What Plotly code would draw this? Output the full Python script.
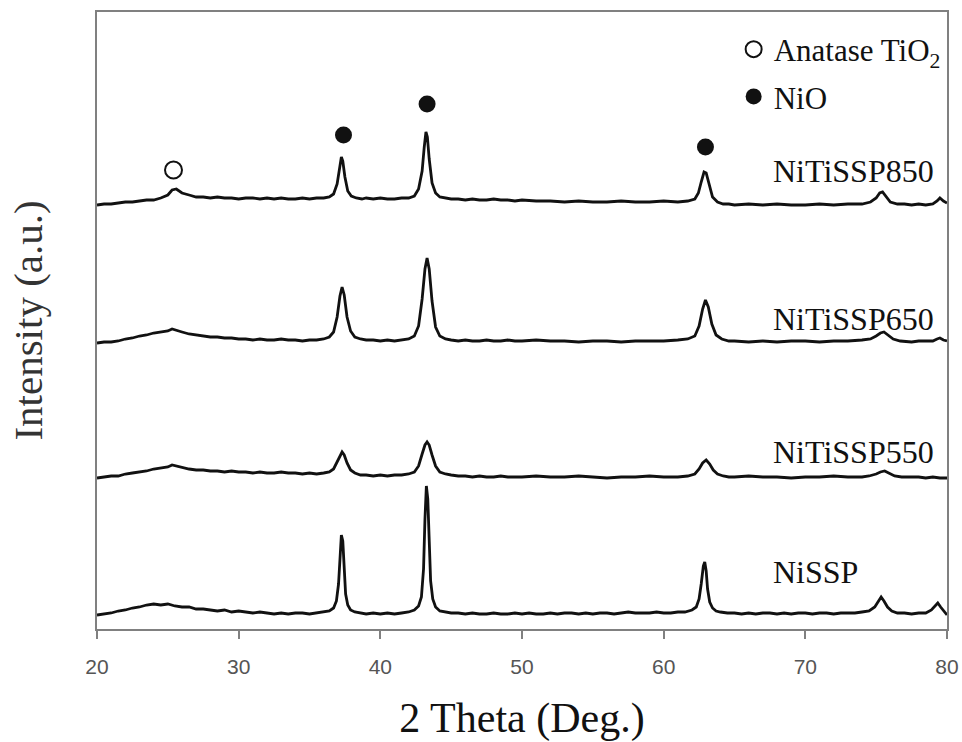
import plotly.graph_objects as go

# 2-theta positions (deg) and stacked intensities (a.u.) for each sample
nissp_x = [20.0, 20.5, 21.0, 21.5, 22.0, 22.5, 23.0, 23.5, 24.0, 24.5, 25.0, 25.5, 26.0, 26.5, 27.0, 27.5,
           28.0, 28.5, 29.0, 29.5, 30.0, 30.5, 31.0, 31.5, 32.0, 32.5, 33.0, 33.5, 34.0, 34.5, 35.0, 35.5,
           36.0, 36.4, 36.7, 36.9, 37.05, 37.15, 37.25, 37.35, 37.45, 37.55, 37.7, 37.9, 38.2, 38.6, 39.0,
           39.5, 40.0, 40.5, 41.0, 41.5, 42.0, 42.4, 42.7, 42.9, 43.05, 43.15, 43.25, 43.35, 43.45, 43.55,
           43.7, 43.9, 44.2, 44.6, 45.0, 45.5, 46.0, 46.5, 47.0, 47.5, 48.0, 48.5, 49.0, 49.5, 50.0, 50.5,
           51.0, 51.5, 52.0, 52.5, 53.0, 53.5, 54.0, 54.5, 55.0, 55.5, 56.0, 56.5, 57.0, 57.5, 58.0, 58.5,
           59.0, 59.5, 60.0, 60.5, 61.0, 61.5, 62.0, 62.3, 62.5, 62.65, 62.8, 62.9, 63.0, 63.1, 63.25, 63.45,
           63.7, 64.0, 64.5, 65.0, 65.5, 66.0, 66.5, 67.0, 67.5, 68.0, 68.5, 69.0, 69.5, 70.0, 70.5, 71.0,
           71.5, 72.0, 72.5, 73.0, 73.5, 74.0, 74.5, 74.9, 75.15, 75.35, 75.55, 75.8, 76.1, 76.5, 77.0, 77.5,
           78.0, 78.5, 78.9, 79.2, 79.35, 79.55, 79.8, 80.0]
nissp_y = [14, 15, 16, 18, 19, 21, 22, 24, 25, 24, 25, 23, 22, 22, 20, 20,
           19, 18, 19, 17, 18, 17, 16, 17, 16, 15, 16, 15, 16, 16, 15, 16,
           17, 18, 21, 28, 45, 75, 94, 88, 60, 35, 24, 19, 17, 16, 15,
           16, 15, 16, 15, 16, 17, 19, 23, 32, 60, 110, 143, 130, 85, 48,
           30, 22, 18, 17, 16, 16, 15, 16, 15, 15, 16, 15, 15, 16, 15, 16,
           15, 15, 16, 15, 16, 16, 15, 16, 15, 16, 16, 15, 16, 17, 16, 16,
           16, 17, 16, 16, 17, 17, 19, 22, 30, 45, 63, 67, 58, 40, 27, 21,
           18, 17, 16, 16, 15, 16, 15, 16, 16, 15, 16, 15, 16, 16, 15, 16,
           16, 15, 16, 16, 16, 17, 18, 22, 28, 32, 28, 22, 18, 16, 16, 15,
           16, 16, 19, 24, 26, 22, 17, 14]

s550_x = [20.0, 20.5, 21.0, 21.5, 22.0, 22.5, 23.0, 23.5, 24.0, 24.5, 25.0, 25.3, 25.6, 26.0, 26.5, 27.0,
          27.5, 28.0, 28.5, 29.0, 29.5, 30.0, 30.5, 31.0, 31.5, 32.0, 32.5, 33.0, 33.5, 34.0, 34.5, 35.0,
          35.5, 36.0, 36.4, 36.7, 36.95, 37.15, 37.3, 37.45, 37.65, 37.9, 38.2, 38.6, 39.0, 39.5, 40.0,
          40.5, 41.0, 41.5, 42.0, 42.4, 42.7, 42.95, 43.15, 43.3, 43.45, 43.65, 43.9, 44.2, 44.6, 45.0,
          45.5, 46.0, 46.5, 47.0, 47.5, 48.0, 48.5, 49.0, 49.5, 50.0, 51.0, 52.0, 53.0, 54.0, 55.0, 56.0,
          57.0, 58.0, 59.0, 60.0, 61.0, 61.7, 62.2, 62.5, 62.75, 63.0, 63.25, 63.5, 63.8, 64.2, 64.6, 65.0,
          66.0, 67.0, 68.0, 69.0, 70.0, 71.0, 72.0, 73.0, 74.0, 74.5, 75.0, 75.3, 75.6, 75.9, 76.3, 76.8,
          77.5, 78.0, 78.5, 79.0, 79.5, 80.0]
s550_y = [151, 152, 153, 153, 155, 156, 157, 158, 160, 161, 162, 164, 163, 161, 160, 159,
          159, 158, 158, 157, 158, 157, 157, 156, 157, 156, 156, 157, 156, 156, 155, 156,
          155, 156, 157, 160, 167, 174, 177, 174, 166, 159, 156, 154, 154, 153, 154,
          153, 154, 154, 155, 157, 163, 175, 184, 187, 184, 174, 163, 157, 155, 154,
          153, 153, 152, 153, 152, 152, 153, 152, 152, 152, 153, 152, 152, 153, 152, 151,
          152, 152, 153, 152, 152, 153, 155, 160, 166, 169, 165, 159, 155, 153, 152, 152,
          153, 152, 152, 151, 152, 152, 153, 152, 152, 153, 155, 157, 158, 156, 153, 152,
          152, 152, 151, 152, 151, 151]

s650_x = [20.0, 20.5, 21.0, 21.5, 22.0, 22.5, 23.0, 23.5, 24.0, 24.5, 25.0, 25.3, 25.6, 26.0, 26.5, 27.0,
          27.5, 28.0, 28.5, 29.0, 29.5, 30.0, 30.5, 31.0, 31.5, 32.0, 32.5, 33.0, 33.5, 34.0, 34.5, 35.0,
          35.5, 36.0, 36.4, 36.7, 36.95, 37.15, 37.3, 37.45, 37.65, 37.9, 38.2, 38.6, 39.0, 39.5, 40.0,
          40.5, 41.0, 41.5, 42.0, 42.4, 42.7, 42.95, 43.15, 43.3, 43.45, 43.65, 43.9, 44.2, 44.6, 45.0,
          45.5, 46.0, 46.5, 47.0, 47.5, 48.0, 48.5, 49.0, 49.5, 50.0, 51.0, 52.0, 53.0, 54.0, 55.0, 56.0,
          57.0, 58.0, 59.0, 60.0, 61.0, 61.7, 62.2, 62.5, 62.75, 62.95, 63.15, 63.4, 63.7, 64.1, 64.6, 65.0,
          66.0, 67.0, 68.0, 69.0, 70.0, 71.0, 72.0, 73.0, 74.0, 74.6, 75.0, 75.3, 75.55, 75.85, 76.2, 76.7,
          77.5, 78.0, 78.5, 79.0, 79.3, 79.5, 79.75, 80.0]
s650_y = [286, 287, 287, 288, 290, 291, 293, 294, 296, 297, 298, 300, 299, 297, 295, 294,
          293, 292, 292, 291, 291, 290, 290, 289, 290, 289, 289, 290, 289, 289, 288, 289,
          289, 290, 292, 297, 312, 333, 342, 334, 312, 298, 292, 290, 289, 289, 288,
          289, 288, 289, 290, 293, 303, 330, 360, 371, 360, 328, 302, 293, 290, 289,
          288, 289, 288, 288, 289, 288, 288, 289, 288, 288, 289, 288, 288, 287, 288, 288,
          287, 288, 288, 288, 289, 290, 293, 303, 320, 329, 322, 305, 294, 290, 288, 288,
          287, 288, 287, 288, 288, 287, 288, 288, 289, 290, 293, 296, 297, 294, 290, 288,
          287, 288, 288, 288, 290, 291, 289, 288]

s850_x = [20.0, 20.5, 21.0, 21.5, 22.0, 22.5, 23.0, 23.5, 24.0, 24.5, 25.0, 25.3, 25.6, 26.0, 26.5, 27.0,
          27.5, 28.0, 28.5, 29.0, 29.5, 30.0, 30.5, 31.0, 31.5, 32.0, 32.5, 33.0, 33.5, 34.0, 34.5, 35.0,
          35.5, 36.0, 36.4, 36.7, 36.95, 37.1, 37.25, 37.35, 37.5, 37.7, 37.95, 38.3, 38.7, 39.0, 39.5, 40.0,
          40.5, 41.0, 41.5, 42.0, 42.4, 42.7, 42.95, 43.1, 43.22, 43.32, 43.45, 43.65, 43.9, 44.2, 44.6, 45.0,
          45.5, 46.0, 46.5, 47.0, 47.5, 48.0, 48.5, 49.0, 49.5, 50.0, 51.0, 52.0, 53.0, 54.0, 55.0, 56.0,
          57.0, 58.0, 59.0, 60.0, 61.0, 61.7, 62.2, 62.45, 62.65, 62.85, 63.0, 63.2, 63.45, 63.8, 64.2, 64.6,
          65.0, 66.0, 67.0, 68.0, 69.0, 70.0, 71.0, 72.0, 73.0, 74.0, 74.6, 75.0, 75.25, 75.45, 75.7, 76.0,
          76.5, 77.0, 77.5, 78.0, 78.5, 79.0, 79.3, 79.5, 79.75, 80.0]
s850_y = [424, 425, 425, 426, 427, 427, 428, 429, 429, 431, 434, 439, 440, 436, 434, 432,
          432, 431, 432, 431, 431, 430, 431, 431, 430, 431, 430, 431, 430, 430, 431, 430,
          431, 431, 432, 435, 445, 461, 472, 468, 452, 438, 433, 431, 430, 431, 430, 431,
          430, 430, 431, 431, 433, 440, 458, 482, 497, 492, 470, 446, 436, 432, 431, 430,
          430, 429, 430, 429, 429, 430, 429, 429, 428, 429, 428, 428, 427, 428, 427, 427,
          428, 427, 427, 428, 427, 428, 430, 436, 447, 457, 456, 444, 432, 427, 425, 425,
          424, 425, 424, 425, 424, 424, 425, 424, 425, 425, 427, 431, 436, 437, 432, 427,
          425, 425, 424, 425, 424, 425, 428, 431, 428, 426]

# phase markers above the reflections
anatase_x = [25.4]
anatase_y = [459]
nio_x = [37.4, 43.3, 62.95]
nio_y = [494, 525, 482]

# sample labels: name, x position (deg), height (a.u.)
label_names = ["NiTiSSP850", "NiTiSSP650", "NiTiSSP550", "NiSSP"]
label_x = [67.6, 67.6, 67.6, 67.6]
label_y = [458, 310, 177, 57]

x_ticks = [20, 30, 40, 50, 60, 70, 80]

SERIF = "Liberation Serif, Times New Roman, serif"
INK = "#111111"
FRAME = "#808080"

fig = go.Figure()

for xs, ys in [(nissp_x, nissp_y), (s550_x, s550_y), (s650_x, s650_y), (s850_x, s850_y)]:
    fig.add_trace(go.Scatter(
        x=xs, y=ys, mode="lines",
        line=dict(color=INK, width=2.8),
        showlegend=False, hoverinfo="skip",
    ))

fig.add_trace(go.Scatter(
    x=anatase_x, y=anatase_y, mode="markers", name="Anatase TiO<sub>2</sub>",
    legendgroup="a",
    marker=dict(symbol="circle-open", size=17, color=INK, line=dict(width=2, color=INK)),
))
fig.add_trace(go.Scatter(
    x=nio_x, y=nio_y, mode="markers", name="NiO",
    legendgroup="b",
    marker=dict(symbol="circle", size=17, color=INK),
))

for name, lx, ly in zip(label_names, label_x, label_y):
    fig.add_annotation(
        x=lx, y=ly, text=name, showarrow=False,
        xanchor="left", yanchor="middle",
        font=dict(family=SERIF, size=32, color=INK),
    )

fig.update_layout(
    width=962, height=742,
    margin=dict(l=97, r=15, t=12, b=113, autoexpand=False),
    paper_bgcolor="white", plot_bgcolor="white",
    showlegend=True,
    legend=dict(
        x=0.749, y=0.983, xanchor="left", yanchor="top",
        bgcolor="rgba(0,0,0,0)", borderwidth=0,
        font=dict(family=SERIF, size=31, color=INK),
        tracegroupgap=4, itemsizing="trace",
    ),
)

fig.update_xaxes(
    range=[20, 80], tickvals=x_ticks, ticktext=[str(t) for t in x_ticks],
    showline=True, mirror=True, linecolor=FRAME, linewidth=2,
    ticks="outside", ticklen=8, tickwidth=2, tickcolor=FRAME,
    ticklabelstandoff=10,
    tickfont=dict(family="Liberation Sans, Arial, sans-serif", size=21, color="#555555"),
    showgrid=False, zeroline=False,
    title=dict(text="2 Theta (Deg.)", font=dict(family=SERIF, size=42, color=INK), standoff=36),
)
fig.update_yaxes(
    range=[0, 617],
    showline=True, mirror=True, linecolor=FRAME, linewidth=2,
    ticks="", showticklabels=False, showgrid=False, zeroline=False,
    title=dict(text="Intensity (a.u.)", font=dict(family=SERIF, size=41, color="#333333"), standoff=40),
)

fig.write_html("out.html")
